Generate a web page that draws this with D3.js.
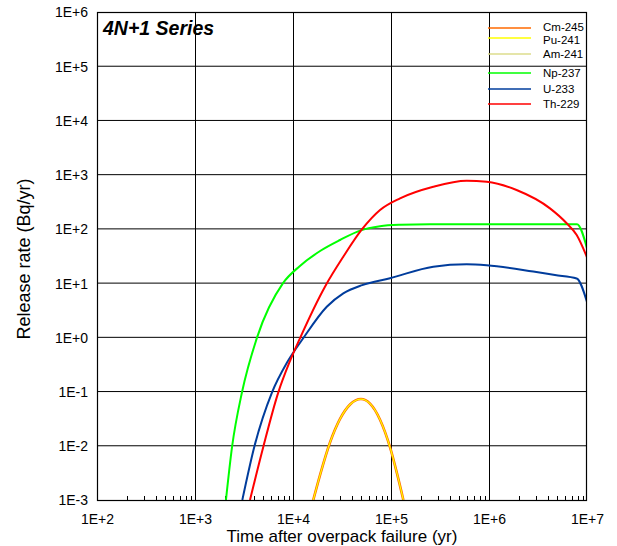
<!DOCTYPE html>
<html>
<head>
<meta charset="utf-8">
<script src="https://cdn.jsdelivr.net/npm/d3@7"></script>
<style>
  html, body { margin: 0; padding: 0; background: #fff; }
  svg { display: block; font-family: "Liberation Sans", Arial, sans-serif; }
</style>
</head>
<body>
<svg id="chart" width="617" height="546"></svg>
<script>
// ---------- data ----------
const chartTitle = "4N+1 Series";
const xTitle = "Time after overpack failure (yr)";
const yTitle = "Release rate (Bq/yr)";
const xTickValues = [1e2, 1e3, 1e4, 1e5, 1e6, 1e7];
const xTickLabels = ["1E+2", "1E+3", "1E+4", "1E+5", "1E+6", "1E+7"];
const yTickValues = [1e-3, 1e-2, 1e-1, 1e0, 1e1, 1e2, 1e3, 1e4, 1e5, 1e6];
const yTickLabels = ["1E-3", "1E-2", "1E-1", "1E+0", "1E+1", "1E+2", "1E+3", "1E+4", "1E+5", "1E+6"];

const seriesNames = ["Cm-245", "Pu-241", "Am-241", "Np-237", "U-233", "Th-229"];
const seriesColors = ["#FF6A00", "#FFFF00", "#DCDC8C", "#00FF00", "#003C9C", "#FF0000"];

// [time (yr), release rate (Bq/yr)]
const cm245 = [[16100,1e-3],[18900,0.00291],[23900,0.0116],[30200,0.0313],[38200,0.0577],[49400,0.0728],[61100,0.060],[77300,0.0303],[97700,0.0094],[115100,0.00309],[133700,1e-3]];
const pu241 = [[16100,1e-3],[18900,0.00291],[23900,0.0116],[30200,0.0313],[38200,0.0577],[49400,0.0728],[61100,0.060],[77300,0.0303],[97700,0.0094],[115100,0.00309],[133700,1e-3]];
const am241 = [];
const np237 = [[2070,1e-3],[2390,0.0096],[3020,0.098],[4300,1.0],[7910,10],[11770,20.7],[18900,39.1],[30200,62.4],[48300,93],[77300,112],[123600,119],[250000,122],[1e6,122],[3e6,122],[6e6,122],[7.9e6,122],[1e7,44]];
const u233 = [[3040,1e-3],[4030,0.0096],[6110,0.0968],[8690,0.343],[12700,0.96],[22100,3.67],[32600,6.49],[50900,9.2],[97700,12.3],[270000,20.1],[592000,22.2],[948000,21.3],[2.83e6,16.3],[4.71e6,14.1],[7.85e6,12.2],[1e7,4.5]];
const th229 = [[3640,1e-3],[4980,0.0096],[7080,0.0968],[9100,0.330],[11770,0.96],[21200,8.6],[32600,30.7],[50900,99.6],[77300,223],[123600,366],[270000,600],[592000,774],[948000,741],[1.91e6,521],[4.19e6,239],[6.2e6,127],[7.85e6,77],[1e7,30]];

const seriesData = [cm245, pu241, am241, np237, u233, th229];
const seriesWidths = [2.6, 1.2, 1.2, 2, 2, 2];

// ---------- layout ----------
const svg = d3.select("#chart");
const pLeft = 97, pRight = 587, pTop = 12, pBottom = 500;

const x = d3.scaleLog().domain([1e2, 1e7]).range([pLeft, pRight]);
const y = d3.scaleLog().domain([1e-3, 1e6]).range([pBottom, pTop]);

// gridlines
const g = svg.append("g");
g.selectAll("line.hg").data(yTickValues.slice(1, -1)).join("line")
  .attr("x1", pLeft).attr("x2", pRight)
  .attr("y1", d => y(d)).attr("y2", d => y(d))
  .attr("stroke", "#000").attr("stroke-width", 1);
g.selectAll("line.vg").data(xTickValues.slice(1, -1)).join("line")
  .attr("y1", pTop).attr("y2", pBottom)
  .attr("x1", d => Math.round(x(d)) + 0.5).attr("x2", d => Math.round(x(d)) + 0.5)
  .attr("stroke", "#000").attr("stroke-width", 1);

// minor ticks on bottom axis (inward)
const minor = [];
for (let e = 2; e < 7; e++) for (let k = 2; k <= 9; k++) minor.push(k * Math.pow(10, e));
g.selectAll("line.mt").data(minor).join("line")
  .attr("x1", d => Math.round(x(d)) + 0.5).attr("x2", d => Math.round(x(d)) + 0.5)
  .attr("y1", pBottom).attr("y2", pBottom - 4)
  .attr("stroke", "#000").attr("stroke-width", 1);

// series lines
svg.append("clipPath").attr("id", "clip").append("rect")
  .attr("x", pLeft).attr("y", pTop).attr("width", pRight - pLeft).attr("height", pBottom - pTop);
const line = d3.line().x(d => x(d[0])).y(d => y(d[1])).curve(d3.curveMonotoneX);
const lines = svg.append("g").attr("clip-path", "url(#clip)");
[3, 4, 5, 0, 2, 1].forEach(i => {
  if (seriesData[i].length) {
    lines.append("path").datum(seriesData[i])
      .attr("d", line).attr("fill", "none")
      .attr("stroke", seriesColors[i]).attr("stroke-width", seriesWidths[i])
      .attr("stroke-linejoin", "round");
  }
});

// frame
svg.append("rect").attr("x", pLeft + 0.5).attr("y", pTop + 0.5)
  .attr("width", pRight - pLeft - 1).attr("height", pBottom - pTop)
  .attr("fill", "none").attr("stroke", "#000").attr("stroke-width", 1.2);

// axes (labels only)
const xAxis = d3.axisBottom(x).tickValues(xTickValues).tickSize(0).tickPadding(0)
  .tickFormat((d, i) => xTickLabels[i]);
const xa = svg.append("g").attr("transform", `translate(0,${pBottom})`).call(xAxis);
xa.select(".domain").remove();
xa.selectAll("text").attr("dy", null).attr("y", 23.5).attr("font-size", 14)
  .attr("font-family", "Liberation Sans, Arial, sans-serif").attr("fill", "#000");

const yAxis = d3.axisLeft(y).tickValues(yTickValues).tickSize(0).tickPadding(0)
  .tickFormat((d, i) => yTickLabels[i]);
const ya = svg.append("g").attr("transform", `translate(${pLeft},0)`).call(yAxis);
ya.select(".domain").remove();
ya.selectAll("text").attr("x", -9).attr("dy", "0.35em").attr("font-size", 14)
  .attr("font-family", "Liberation Sans, Arial, sans-serif").attr("fill", "#000");

// titles
svg.append("text").attr("x", 103).attr("y", 35).text(chartTitle)
  .attr("font-size", 19.5).attr("font-weight", "bold").attr("font-style", "italic");
svg.append("text").attr("x", 342).attr("y", 542).attr("text-anchor", "middle")
  .attr("font-size", 17).text(xTitle);
svg.append("text").attr("transform", "translate(30,259) rotate(-90)").attr("text-anchor", "middle")
  .attr("font-size", 18).text(yTitle);

// legend
const legLineY = [28, 38, 54, 73, 89, 104];
const legTextY = [26.5, 39.5, 54, 73, 89, 104];
const leg = svg.append("g");
seriesNames.forEach((n, i) => {
  leg.append("line").attr("x1", 488).attr("x2", 531).attr("y1", legLineY[i]).attr("y2", legLineY[i])
    .attr("stroke", seriesColors[i]).attr("stroke-width", 1.5);
  leg.append("text").attr("x", 543).attr("y", legTextY[i]).attr("dy", "0.35em")
    .attr("font-size", 11.5).text(n);
});
</script>
</body>
</html>
